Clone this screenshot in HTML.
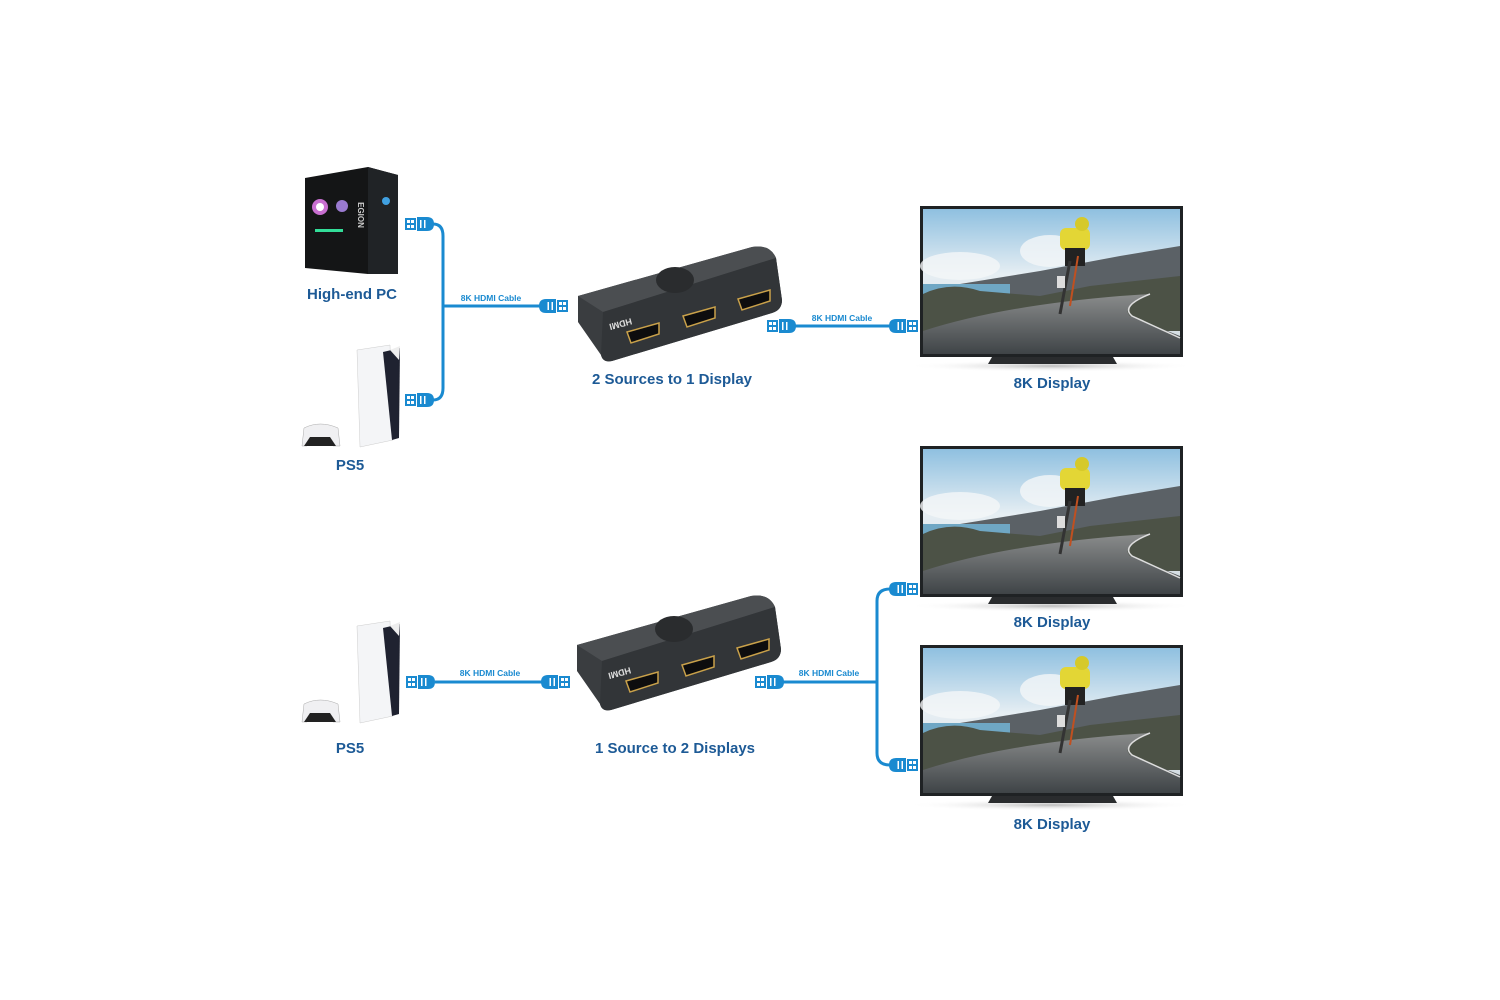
<!DOCTYPE html>
<html><head><meta charset="utf-8"><style>
html,body{margin:0;padding:0;background:#fff;}
svg{display:block}
.lbl{font-family:"Liberation Sans",sans-serif;font-weight:bold;font-size:15px;fill:#1d5a96;text-anchor:middle}
.cbl{font-family:"Liberation Sans",sans-serif;font-weight:bold;font-size:8.5px;fill:#1a8ad0;text-anchor:middle}
</style></head><body>
<svg width="1500" height="1000" viewBox="0 0 1500 1000" xmlns="http://www.w3.org/2000/svg">
<defs>
 <linearGradient id="sky" x1="0" y1="0" x2="0" y2="1">
  <stop offset="0" stop-color="#8fc0e0"/><stop offset="0.45" stop-color="#e6eef3"/><stop offset="1" stop-color="#cfd8de"/>
 </linearGradient>
 <linearGradient id="road" x1="0" y1="0" x2="0" y2="1">
  <stop offset="0" stop-color="#8a8c8c"/><stop offset="1" stop-color="#3f4447"/>
 </linearGradient>
 <radialGradient id="shad"><stop offset="0" stop-color="#bbb"/><stop offset="1" stop-color="#fff" stop-opacity="0"/></radialGradient>
 <g id="plugL">
  <rect x="0" y="-6" width="11" height="12" fill="#1a8ad0"/>
  <rect x="2" y="-4" width="3" height="3" fill="#fff"/><rect x="6" y="-4" width="3" height="3" fill="#fff"/>
  <rect x="2" y="1" width="3" height="3" fill="#fff"/><rect x="6" y="1" width="3" height="3" fill="#fff"/>
  <path d="M12 -7 H22 Q29 -7 29 0 Q29 7 22 7 H12 Z" fill="#1a8ad0"/>
  <rect x="15" y="-4" width="1.5" height="8" fill="#fff"/><rect x="19" y="-4" width="1.5" height="8" fill="#fff"/>
 </g>
 <g id="plugR"><use href="#plugL" transform="scale(-1,1)"/></g>
 <g id="tv">
  <ellipse cx="131" cy="160" rx="145" ry="6" fill="url(#shad)"/>
  <path d="M72 151 L193 151 L197 158 L68 158 Z" fill="#2a2c2e"/>
  <rect x="0" y="0" width="263" height="151" fill="#1f2224"/>
  <rect x="3" y="3" width="257" height="145" fill="url(#sky)"/>
  <ellipse cx="40" cy="60" rx="40" ry="14" fill="#f4f6f8" opacity=".8"/>
  <ellipse cx="130" cy="45" rx="30" ry="16" fill="#f4f6f8" opacity=".8"/>
  <path d="M40 78 L120 65 L200 50 L260 40 L260 100 L3 100 Z" fill="#5b6166"/>
  <path d="M3 78 L90 78 L90 95 L3 95 Z" fill="#6fa7c4"/>
  <path d="M3 88 Q30 75 60 85 L120 90 L170 80 L260 70 L260 125 L3 125 Z" fill="#4c5246"/>
  <path d="M3 125 Q80 100 200 90 L230 88 Q200 100 210 110 L260 130 L260 148 L3 148 Z" fill="url(#road)"/>
  <path d="M230 88 Q200 100 212 110 L260 132" stroke="#ddd" stroke-width="1.5" fill="none"/>
  <rect x="140" y="22" width="30" height="22" rx="6" fill="#e3d635"/>
  <circle cx="162" cy="18" r="7" fill="#d6c92a"/>
  <rect x="145" y="42" width="20" height="18" fill="#222"/>
  <line x1="150" y1="55" x2="140" y2="108" stroke="#333" stroke-width="3"/>
  <line x1="158" y1="50" x2="150" y2="100" stroke="#c05020" stroke-width="2"/>
  <rect x="137" y="70" width="8" height="12" fill="#ddd"/>
 </g>
 <g id="sw">
  <path d="M578 296 L752 247 Q770 244 776 258 L782 300 Q782 310 772 313 L612 361 Q603 363 601 355 L578 322 Z" fill="#3a3d40"/>
  <path d="M578 296 L752 247 Q770 244 776 258 L603 312 Z" fill="#4b4e51"/>
  <path d="M603 312 L776 258 L782 300 Q782 310 772 313 L612 361 Q603 363 601 355 Z" fill="#323538"/>
  <ellipse cx="675" cy="280" rx="19" ry="13" fill="#2a2c2e"/>
  <g fill="#0d0d0e" stroke="#c9a14a" stroke-width="1.5">
   <path d="M627 332 L659 323 L659 334 L631 343 Z"/>
   <path d="M683 316 L715 307 L715 318 L687 327 Z"/>
   <path d="M738 299 L770 290 L770 301 L742 310 Z"/>
  </g>
  <text x="632" y="322" transform="rotate(-15 632 322) scale(-1,-1) translate(-1264,-640)" font-family="Liberation Sans" font-size="9" font-weight="bold" fill="#ddd">HDMI</text>
 </g>
 <g id="ps5">
  <path d="M357 350 L390 345 L393 440 L360 447 Z" fill="#f4f5f7" stroke="#ccc" stroke-width=".5"/>
  <path d="M383 352 L400 348 L399 438 L392 440 Z" fill="#1f2230"/>
  <path d="M390 350 L400 346 L399 360 Z" fill="#eee"/>
  <path d="M304 428 Q320 420 338 428 L340 446 L333 446 L326 438 L314 438 L307 446 L302 446 Z" fill="#f0f0f2" stroke="#aaa" stroke-width=".5"/>
  <path d="M310 437 L330 437 L336 446 L304 446 Z" fill="#222"/>
 </g>
</defs>

<!-- PC -->
<path d="M305 178 L368 167 L398 175 L398 274 L368 274 L305 268 Z" fill="#141516"/>
<path d="M368 167 L398 175 L398 274 L368 274 Z" fill="#202326"/>
<circle cx="320" cy="207" r="8" fill="#c86fd0"/><circle cx="320" cy="207" r="4" fill="#fff"/>
<circle cx="342" cy="206" r="6" fill="#9a7ad0"/>
<circle cx="386" cy="201" r="4" fill="#40a0e0"/>
<rect x="315" y="229" width="28" height="3" fill="#3d9"/>
<text x="358" y="215" transform="rotate(90 358 215)" font-family="Liberation Sans" font-size="8" font-weight="bold" fill="#ccc" text-anchor="middle">EGION</text>
<text class="lbl" x="352" y="299">High-end PC</text>

<use href="#ps5"/>
<text class="lbl" x="350" y="470">PS5</text>
<use href="#ps5" transform="translate(0,276)"/>
<text class="lbl" x="350" y="753">PS5</text>

<!-- top cables -->
<g stroke="#1a8ad0" stroke-width="3" fill="none">
 <path d="M433 224 Q443 224 443 236 L443 388 Q443 400 433 400"/>
 <path d="M443 306 L540 306"/>
 <path d="M795 326 L890 326"/>
 <path d="M435 682 L543 682"/>
 <path d="M783 682 L877 682"/>
 <path d="M890 589 Q877 589 877 601 L877 753 Q877 765 890 765"/>
</g>
<use href="#plugL" x="405" y="224"/>
<use href="#plugL" x="405" y="400"/>
<use href="#plugR" transform="translate(568,306)"/>
<use href="#plugL" x="767" y="326"/>
<use href="#plugR" transform="translate(918,326)"/>
<use href="#plugL" x="406" y="682"/>
<use href="#plugR" transform="translate(570,682)"/>
<use href="#plugL" x="755" y="682"/>
<use href="#plugR" transform="translate(918,589)"/>
<use href="#plugR" transform="translate(918,765)"/>
<text class="cbl" x="491" y="301">8K HDMI Cable</text>
<text class="cbl" x="842" y="321">8K HDMI Cable</text>
<text class="cbl" x="490" y="676">8K HDMI Cable</text>
<text class="cbl" x="829" y="676">8K HDMI Cable</text>

<use href="#sw"/>
<text class="lbl" x="672" y="384">2 Sources to 1 Display</text>
<use href="#sw" transform="translate(-1,349)"/>
<text class="lbl" x="675" y="753">1 Source to 2 Displays</text>

<use href="#tv" transform="translate(920,206)"/>
<text class="lbl" x="1052" y="388">8K Display</text>
<use href="#tv" transform="translate(920,446)"/>
<text class="lbl" x="1052" y="627">8K Display</text>
<use href="#tv" transform="translate(920,645)"/>
<text class="lbl" x="1052" y="829">8K Display</text>
</svg>
</body></html>
